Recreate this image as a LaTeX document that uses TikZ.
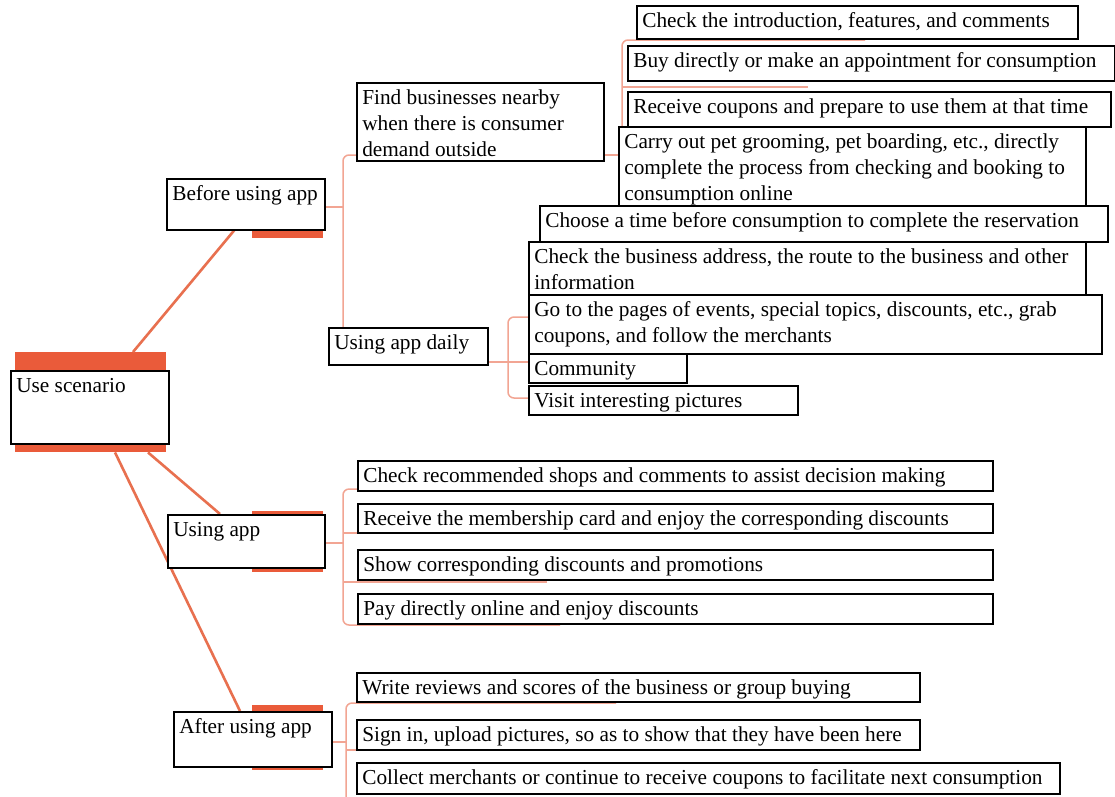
\documentclass[tikz,border=0pt]{standalone}
\usepackage{fontspec}
\setmainfont{Liberation Serif}
\usetikzlibrary{calc}
\definecolor{barc}{HTML}{EA5B3A}
\definecolor{lone}{HTML}{E8704F}
\definecolor{ltwo}{HTML}{F2A593}
\tikzset{
  box/.style={draw=black, line width=1.6pt, fill=white, inner xsep=5.5pt, inner ysep=3pt,
    anchor=north west, font=\fontsize{21.3}{26}\selectfont},
  obar/.style={fill=barc, draw=none, inner sep=0pt, anchor=north west},
  mainline/.style={draw=lone, line width=2.6pt},
  subline/.style={draw=ltwo, line width=1.5pt, rounded corners=6pt},
}
\newcommand{\tbox}[6]{\node[box] (#1) at (#2,#3)
  {\parbox[t][\dimexpr#5pt-6pt\relax][t]{\dimexpr#4pt-11pt\relax}{\raggedright\strut#6\strut}};}
\begin{document}
\begin{tikzpicture}[x=1pt,y=-1pt]
\useasboundingbox (0,0) rectangle (1115,796);
\fill[white] (0,0) rectangle (1115,796);

% junction coordinates
\coordinate (bj) at (343,207);
\coordinate (fbj) at (357,155);
\coordinate (fj) at (622,155);
\coordinate (c1u) at (865,40);
\coordinate (c2u) at (808,87);
\coordinate (dj) at (508,362);
\coordinate (dt) at (528,317);
\coordinate (db) at (528,398);
\coordinate (uj) at (343,543);
\coordinate (u1u) at (545,489);
\coordinate (u2u) at (573,533);
\coordinate (u3u) at (547,582);
\coordinate (u4u) at (560,625);
\coordinate (aj) at (346,742);
\coordinate (a1u) at (616,703);
\coordinate (a2u) at (612,750);
\coordinate (abot) at (346,805);

% orange bars
\node[obar, minimum width=151pt, minimum height=100pt] (rootbar) at (15,352) {};
\node[obar, minimum width=71pt, minimum height=30pt] (befbar) at (252,208) {};
\node[obar, minimum width=71pt, minimum height=61pt] (uabar) at (252,511) {};
\node[obar, minimum width=71pt, minimum height=65pt] (aabar) at (252,705) {};

% main connectors
\draw[mainline] ($(rootbar.north west)+(118,0)$) -- ($(befbar.south west)+(-17,-9)$);
\draw[mainline] ($(rootbar.south west)+(133,0)$) -- ($(uabar.north west)+(-32,3)$);
\draw[mainline] ($(rootbar.south west)+(100,0)$) -- ($(aabar.north west)+(-12,6)$);

% level-2 connectors
\draw[subline] (bj -| 300,0) -- (bj);
\draw[subline] (bj |- 0,330) -- (bj |- fbj) -- (fbj);
\draw[subline] (fj -| 590,0) -- (fj);
\draw[subline] (fj) -- (fj |- c1u) -- (c1u);
\draw[subline] (fj |- c2u) -- (c2u);
\draw[subline] (dj -| 480,0) -- (dj) -- (dj -| dt);
\draw[subline] (dt) -- (dt -| dj) -- (db -| dj) -- (db);
\draw[subline] (uj -| 310,0) -- (uj);
\draw[subline] (u1u) -- (u1u -| uj) -- (u4u -| uj) -- (u4u);
\draw[subline] (u2u -| uj) -- (u2u);
\draw[subline] (u3u -| uj) -- (u3u);
\draw[subline] (aj -| 320,0) -- (aj);
\draw[subline] (a1u) -- (a1u -| aj) -- (abot);
\draw[subline] (a2u -| aj) -- (a2u);

% level-1 boxes
\tbox{root}{10}{370}{158}{73}{Use scenario}
\tbox{bef}{166}{178}{158}{51}{Before using app}
\tbox{ua}{167}{514}{157}{53}{Using app}
\tbox{aa}{173}{711}{158}{55}{After using app}

% level-2 boxes
\tbox{fb}{356}{82}{247}{78}{Find businesses nearby\\when there is consumer\\demand outside}
\tbox{dly}{328}{327}{159}{37}{Using app daily}

% leaves
\tbox{c1}{636}{5}{441}{33}{Check the introduction, features, and comments}
\tbox{c2}{627}{45}{487}{35}{Buy directly or make an appointment for consumption}
\tbox{c3}{627}{91}{483}{35}{Receive coupons and prepare to use them at that time}
\tbox{c4}{618}{126}{467}{80}{Carry out pet grooming, pet boarding, etc., directly\\complete the process from checking and booking to\\consumption online}
\tbox{d1}{539}{205}{568}{36}{Choose a time before consumption to complete the reservation}
\tbox{d2}{528}{241}{557}{53}{Check the business address, the route to the business and other\\information}
\tbox{d3}{528}{294}{573}{59}{Go to the pages of events, special topics, discounts, etc., grab\\coupons, and follow the merchants}
\tbox{d4}{528}{353}{158}{29}{Community}
\tbox{d5}{528}{385}{269}{29}{Visit interesting pictures}
\tbox{u1}{357}{460}{635}{30}{Check recommended shops and comments to assist decision making}
\tbox{u2}{357}{503}{635}{29}{Receive the membership card and enjoy the corresponding discounts}
\tbox{u3}{357}{549}{635}{30}{Show corresponding discounts and promotions}
\tbox{u4}{357}{593}{635}{30}{Pay directly online and enjoy discounts}
\tbox{a1}{356}{672}{563}{29}{Write reviews and scores of the business or group buying}
\tbox{a2}{356}{719}{563}{30}{Sign in, upload pictures, so as to show that they have been here}
\tbox{a3}{356}{762}{703}{31}{Collect merchants or continue to receive coupons to facilitate next consumption}
\end{tikzpicture}
\end{document}
